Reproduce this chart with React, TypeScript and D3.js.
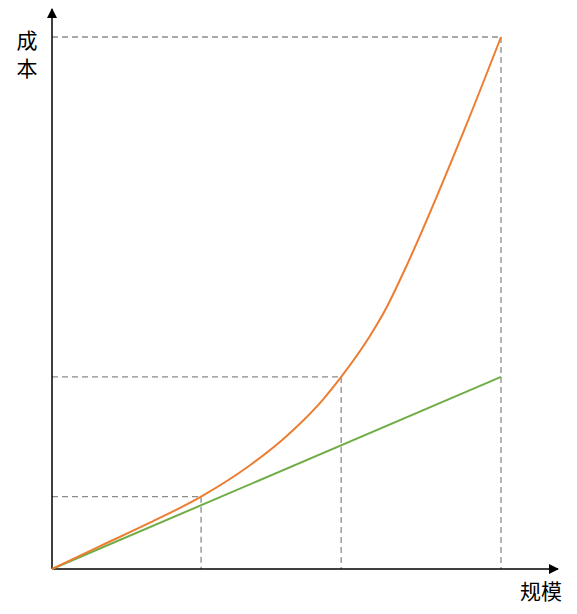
import React, { useEffect, useRef } from "react";
import * as d3 from "d3";

// 规模 (x) and 成本 (y), units 0..10
const scaleX = [0, 1.07, 2.18, 3.32, 4.41, 5.12, 5.52, 6.04, 6.44, 7.08, 7.46, 7.82, 9.2, 10];
const costCurve = [0, 0.43, 0.87, 1.36, 1.95, 2.42, 2.73, 3.19, 3.61, 4.38, 4.93, 5.56, 8.29, 10];
const lineX = [0, 10];
const costLine = [0, 3.61];
// dashed guide points
const guideX = [3.32, 6.44, 10];
const guideY = [1.36, 3.61, 10];

const W = 577;
const H = 614;

const App: React.FC = () => {
  const svgRef = useRef<SVGSVGElement | null>(null);

  useEffect(() => {
    if (!svgRef.current) return;
    const svg = d3.select(svgRef.current);
    svg.selectAll("*").remove();

    const x = d3.scaleLinear().domain([0, 10]).range([52, 501]);
    const y = d3.scaleLinear().domain([0, 10]).range([569, 37]);

    const defs = svg.append("defs");
    defs
      .append("marker")
      .attr("id", "arrow")
      .attr("viewBox", "0 0 10 10")
      .attr("refX", 9)
      .attr("refY", 5)
      .attr("markerWidth", 10)
      .attr("markerHeight", 10)
      .attr("markerUnits", "userSpaceOnUse")
      .attr("orient", "auto")
      .append("path")
      .attr("d", "M0,0 L10,5 L0,10 Z")
      .attr("fill", "#000");

    // dashed guides
    const guides = svg
      .append("g")
      .attr("stroke", "#8c8c8c")
      .attr("stroke-width", 1.3)
      .attr("stroke-dasharray", "6,4")
      .attr("fill", "none");
    guideX.forEach((gx, i) => {
      guides
        .append("line")
        .attr("x1", x(0))
        .attr("y1", y(guideY[i]))
        .attr("x2", x(gx))
        .attr("y2", y(guideY[i]));
      guides
        .append("line")
        .attr("x1", x(gx))
        .attr("y1", y(guideY[i]))
        .attr("x2", x(gx))
        .attr("y2", y(0));
    });

    // axes
    svg
      .append("line")
      .attr("x1", x(0))
      .attr("y1", y(0))
      .attr("x2", x(0))
      .attr("y2", 9)
      .attr("stroke", "#000")
      .attr("stroke-width", 1.5)
      .attr("marker-end", "url(#arrow)");
    svg
      .append("line")
      .attr("x1", x(0))
      .attr("y1", y(0))
      .attr("x2", 558)
      .attr("y2", y(0))
      .attr("stroke", "#000")
      .attr("stroke-width", 1.5)
      .attr("marker-end", "url(#arrow)");

    const line = d3
      .line<number>()
      .x((_, i) => x(scaleX[i]))
      .y((d) => y(d))
      .curve(d3.curveMonotoneX);

    svg
      .append("path")
      .datum(costLine)
      .attr("d", d3.line<number>().x((_, i) => x(lineX[i])).y((d) => y(d)))
      .attr("fill", "none")
      .attr("stroke", "#70AD47")
      .attr("stroke-width", 2);

    svg
      .append("path")
      .datum(costCurve)
      .attr("d", line)
      .attr("fill", "none")
      .attr("stroke", "#ED7D31")
      .attr("stroke-width", 2);

    const font = "'Noto Sans CJK SC', sans-serif";
    svg
      .append("text")
      .attr("x", 27)
      .attr("y", 48)
      .attr("text-anchor", "middle")
      .style("font-family", font)
      .style("font-size", "21px")
      .text("成");
    svg
      .append("text")
      .attr("x", 27)
      .attr("y", 76)
      .attr("text-anchor", "middle")
      .style("font-family", font)
      .style("font-size", "21px")
      .text("本");
    svg
      .append("text")
      .attr("x", 541)
      .attr("y", 599)
      .attr("text-anchor", "middle")
      .style("font-family", font)
      .style("font-size", "21px")
      .text("规模");
  }, []);

  return (
    <svg
      ref={svgRef}
      width={W}
      height={H}
      style={{ position: "absolute", left: 0, top: 0, background: "#fff" }}
    ></svg>
  );
};

export default App;
